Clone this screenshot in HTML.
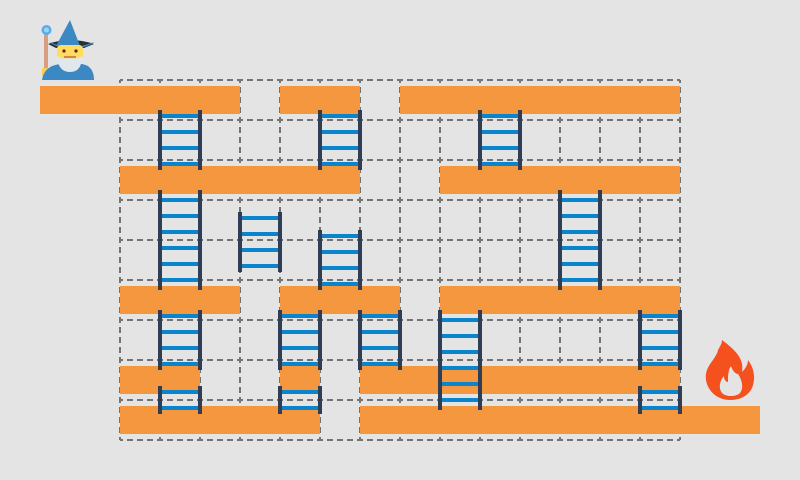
<!DOCTYPE html>
<html><head><meta charset="utf-8"><style>html,body{margin:0;padding:0;background:#e4e4e4}svg{display:block}</style></head>
<body>
<svg width="800" height="480" viewBox="0 0 800 480" xmlns="http://www.w3.org/2000/svg">
<rect width="800" height="480" fill="#e4e4e4"/>
<g stroke="#737373" stroke-width="2" stroke-dasharray="6 4" stroke-dashoffset="3">
<line x1="120" y1="80" x2="120" y2="440"/><line x1="160" y1="80" x2="160" y2="440"/><line x1="200" y1="80" x2="200" y2="440"/><line x1="240" y1="80" x2="240" y2="440"/><line x1="280" y1="80" x2="280" y2="440"/><line x1="320" y1="80" x2="320" y2="440"/><line x1="360" y1="80" x2="360" y2="440"/><line x1="400" y1="80" x2="400" y2="440"/><line x1="440" y1="80" x2="440" y2="440"/><line x1="480" y1="80" x2="480" y2="440"/><line x1="520" y1="80" x2="520" y2="440"/><line x1="560" y1="80" x2="560" y2="440"/><line x1="600" y1="80" x2="600" y2="440"/><line x1="640" y1="80" x2="640" y2="440"/><line x1="680" y1="80" x2="680" y2="440"/>
<line x1="120" y1="80" x2="680" y2="80"/><line x1="120" y1="120" x2="680" y2="120"/><line x1="120" y1="160" x2="680" y2="160"/><line x1="120" y1="200" x2="680" y2="200"/><line x1="120" y1="240" x2="680" y2="240"/><line x1="120" y1="280" x2="680" y2="280"/><line x1="120" y1="320" x2="680" y2="320"/><line x1="120" y1="360" x2="680" y2="360"/><line x1="120" y1="400" x2="680" y2="400"/><line x1="120" y1="440" x2="680" y2="440"/>
</g>
<g fill="#f5973e">
<rect x="40" y="86" width="200" height="28"/><rect x="280" y="86" width="80" height="28"/><rect x="400" y="86" width="280" height="28"/>
<rect x="120" y="166" width="240" height="28"/><rect x="440" y="166" width="240" height="28"/>
<rect x="120" y="286" width="120" height="28"/><rect x="280" y="286" width="120" height="28"/><rect x="440" y="286" width="240" height="28"/>
<rect x="120" y="366" width="80" height="28"/><rect x="280" y="366" width="40" height="28"/><rect x="360" y="366" width="320" height="28"/>
<rect x="120" y="406" width="200" height="28"/><rect x="360" y="406" width="400" height="28"/>
</g>
<g stroke="#0a85cc" stroke-width="4">
<path d="M160 116h40M160 132h40M160 148h40M160 164h40"/>
<path d="M320 116h40M320 132h40M320 148h40M320 164h40"/>
<path d="M480 116h40M480 132h40M480 148h40M480 164h40"/>
<path d="M160 200h40M160 216h40M160 232h40M160 248h40M160 264h40M160 280h40"/>
<path d="M560 200h40M560 216h40M560 232h40M560 248h40M560 264h40M560 280h40"/>
<path d="M240 218h40M240 234h40M240 250h40M240 266h40"/>
<path d="M320 236h40M320 252h40M320 268h40M320 284h40"/>
<path d="M160 316h40M160 332h40M160 348h40M160 364h40"/>
<path d="M280 316h40M280 332h40M280 348h40M280 364h40"/>
<path d="M360 316h40M360 332h40M360 348h40M360 364h40"/>
<path d="M640 316h40M640 332h40M640 348h40M640 364h40"/>
<path d="M440 320h40M440 336h40M440 352h40M440 368h40M440 384h40M440 400h40"/>
<path d="M160 392h40M160 408h40M280 392h40M280 408h40M640 392h40M640 408h40"/>
</g>
<g stroke="#2f3e55" stroke-width="4">
<path d="M160 110v60M200 110v60M320 110v60M360 110v60M480 110v60M520 110v60"/>
<path d="M160 190v100M200 190v100M560 190v100M600 190v100"/>
<path d="M240 212v60M280 212v60M320 230v60M360 230v60"/>
<path d="M160 310v60M200 310v60M280 310v60M320 310v60M360 310v60M400 310v60M640 310v60M680 310v60"/>
<path d="M440 310v100M480 310v100"/>
<path d="M160 386v28M200 386v28M280 386v28M320 386v28M640 386v28M680 386v28"/>
</g>
<!-- wizard -->
<g>
<rect x="44" y="32" width="4" height="48" fill="#d99e82"/>
<circle cx="46.5" cy="30" r="5" fill="#55acee"/><circle cx="46.5" cy="30" r="2.5" fill="#9fd3f5"/>
<path d="M42 68h10v8h-10z" fill="#ffcc4d"/>
<path d="M42 80 Q44 66 60 64 L82 64 Q94 66 94 80 Z" fill="#3b88c3"/>
<path d="M48 44 Q70 36 94 44 L84 48 L56 48 Z" fill="#292f33"/>
<path d="M56 46 L70 20 L80 46 Z" fill="#3b88c3"/>
<path d="M50 42 Q70 52 94 42 L92 44 Q70 54 52 44Z" fill="#3b88c3"/>
<rect x="57" y="45" width="26" height="14" rx="4" fill="#ffdc5d"/>
<circle cx="64" cy="51" r="1.6" fill="#662113"/><circle cx="76" cy="51" r="1.6" fill="#662113"/>
<path d="M57 56 Q58 72 70 72 Q82 72 82 56 Q76 60 70 58 Q64 60 57 56Z" fill="#e1e8ed"/>
<path d="M64 57h12" stroke="#c1694f" stroke-width="1.5"/>
</g>
<!-- fire -->
<path d="M722 340 C738 352 744 360 742 372 C746 368 748 364 748 360 C754 368 756 378 752 388 C748 396 740 400 730 400 C718 400 708 392 706 380 C704 366 716 360 718 350 C720 346 722 344 722 340Z" fill="#f4511e"/>
<path d="M731 366 C733 372 736 374 738 374 C742 380 744 388 740 393 C736 397 726 397 722 393 C718 388 720 380 724 376 C724 380 726 382 728 382 C728 376 728 370 731 366Z" fill="#e4e4e4"/>
</svg>
</body></html>
